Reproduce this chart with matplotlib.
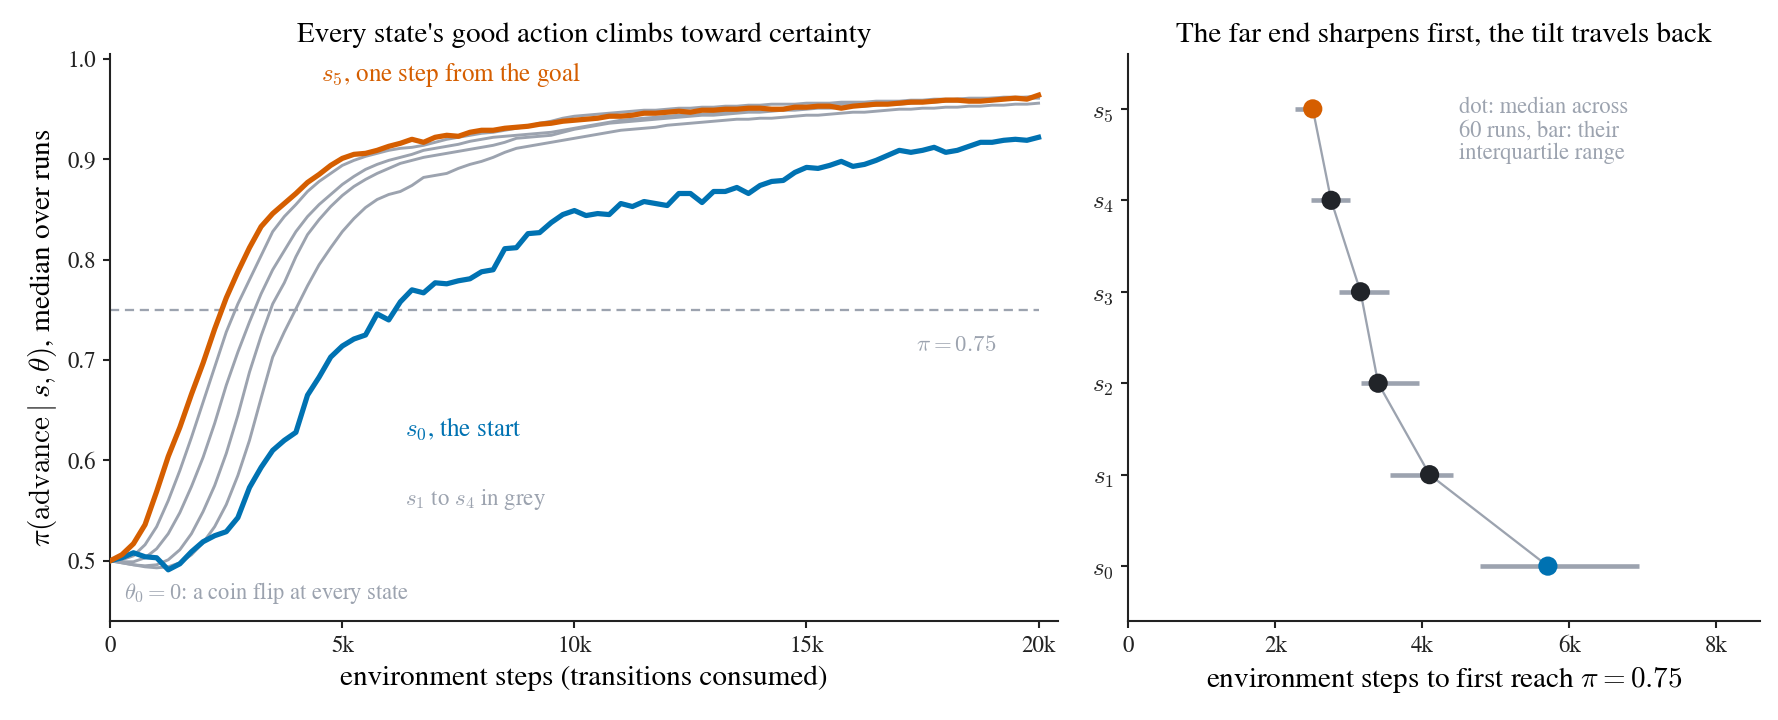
import numpy as np
import matplotlib
matplotlib.use("Agg")
import matplotlib.pyplot as plt
from matplotlib.ticker import FuncFormatter

plt.rcParams["font.family"] = ["STIXGeneral", "DejaVu Serif"]
plt.rcParams["mathtext.fontset"] = "cm"

COLORS = {
    "s0":   "#0072B2",
    "s5":   "#D55E00",
    "grey": "#9CA3AF",
    "dot":  "#212429",
    "ink":  "#222222",
}

# ---- left panel: median pi(advance | s) over training, sampled every 250 steps
steps = np.arange(0, 20001, 250)

pi_s5 = [0.500, 0.506, 0.517, 0.536, 0.569, 0.604, 0.633, 0.666, 0.697, 0.731,
         0.762, 0.788, 0.812, 0.833, 0.846, 0.856, 0.866, 0.877, 0.885, 0.894,
         0.901, 0.905, 0.906, 0.909, 0.913, 0.916, 0.920, 0.917, 0.922, 0.924,
         0.923, 0.927, 0.929, 0.929, 0.931, 0.932, 0.933, 0.935, 0.936, 0.938,
         0.939, 0.940, 0.941, 0.943, 0.943, 0.944, 0.946, 0.946, 0.947, 0.948,
         0.947, 0.949, 0.949, 0.950, 0.950, 0.951, 0.951, 0.950, 0.950, 0.952,
         0.952, 0.953, 0.953, 0.951, 0.953, 0.954, 0.955, 0.955, 0.956, 0.957,
         0.957, 0.958, 0.959, 0.959, 0.958, 0.958, 0.959, 0.960, 0.961, 0.960,
         0.964]

pi_s4 = [0.500, 0.501, 0.505, 0.516, 0.534, 0.560, 0.590, 0.623, 0.658, 0.693,
         0.728, 0.756, 0.780, 0.804, 0.828, 0.843, 0.855, 0.868, 0.878, 0.886,
         0.894, 0.899, 0.903, 0.906, 0.909, 0.911, 0.912, 0.914, 0.917, 0.920,
         0.922, 0.924, 0.926, 0.927, 0.929, 0.931, 0.933, 0.936, 0.938, 0.941,
         0.943, 0.944, 0.945, 0.946, 0.947, 0.948, 0.949, 0.949, 0.950, 0.951,
         0.951, 0.952, 0.952, 0.953, 0.953, 0.954, 0.954, 0.955, 0.955, 0.955,
         0.956, 0.956, 0.956, 0.957, 0.957, 0.957, 0.958, 0.958, 0.958, 0.959,
         0.959, 0.960, 0.960, 0.960, 0.961, 0.961, 0.961, 0.962, 0.962, 0.962,
         0.963]

pi_s3 = [0.500, 0.499, 0.499, 0.503, 0.512, 0.527, 0.548, 0.574, 0.603, 0.637,
         0.675, 0.708, 0.738, 0.766, 0.790, 0.809, 0.828, 0.843, 0.855, 0.865,
         0.875, 0.883, 0.890, 0.895, 0.899, 0.902, 0.905, 0.909, 0.911, 0.913,
         0.915, 0.918, 0.920, 0.922, 0.923, 0.924, 0.925, 0.926, 0.927, 0.929,
         0.931, 0.933, 0.935, 0.937, 0.939, 0.940, 0.941, 0.942, 0.943, 0.944,
         0.944, 0.945, 0.946, 0.947, 0.948, 0.949, 0.950, 0.950, 0.951, 0.952,
         0.953, 0.953, 0.954, 0.955, 0.955, 0.956, 0.956, 0.957, 0.957, 0.958,
         0.958, 0.959, 0.959, 0.960, 0.960, 0.960, 0.961, 0.961, 0.961, 0.962,
         0.962]

pi_s2 = [0.500, 0.498, 0.496, 0.495, 0.496, 0.501, 0.511, 0.527, 0.549, 0.575,
         0.607, 0.645, 0.688, 0.724, 0.756, 0.777, 0.803, 0.825, 0.840, 0.853,
         0.864, 0.873, 0.880, 0.886, 0.891, 0.896, 0.899, 0.902, 0.904, 0.906,
         0.908, 0.910, 0.912, 0.914, 0.917, 0.921, 0.922, 0.923, 0.924, 0.927,
         0.930, 0.932, 0.934, 0.936, 0.937, 0.938, 0.939, 0.940, 0.941, 0.942,
         0.943, 0.944, 0.944, 0.945, 0.946, 0.947, 0.947, 0.948, 0.949, 0.949,
         0.950, 0.951, 0.951, 0.952, 0.953, 0.953, 0.954, 0.955, 0.955, 0.956,
         0.957, 0.957, 0.958, 0.958, 0.959, 0.959, 0.960, 0.960, 0.960, 0.961,
         0.961]

pi_s1 = [0.500, 0.498, 0.496, 0.494, 0.493, 0.494, 0.498, 0.506, 0.518, 0.534,
         0.556, 0.585, 0.620, 0.662, 0.703, 0.728, 0.751, 0.774, 0.795, 0.812,
         0.828, 0.841, 0.852, 0.860, 0.865, 0.868, 0.874, 0.882, 0.884, 0.886,
         0.891, 0.895, 0.898, 0.902, 0.907, 0.911, 0.913, 0.915, 0.917, 0.919,
         0.921, 0.923, 0.925, 0.927, 0.929, 0.930, 0.931, 0.932, 0.934, 0.935,
         0.936, 0.937, 0.938, 0.939, 0.940, 0.940, 0.941, 0.941, 0.942, 0.943,
         0.944, 0.944, 0.945, 0.946, 0.947, 0.947, 0.948, 0.949, 0.950, 0.950,
         0.951, 0.951, 0.952, 0.952, 0.953, 0.953, 0.954, 0.954, 0.955, 0.955,
         0.956]

pi_s0 = [0.500, 0.503, 0.508, 0.504, 0.503, 0.491, 0.497, 0.509, 0.519, 0.525,
         0.529, 0.543, 0.573, 0.593, 0.610, 0.620, 0.628, 0.665, 0.683, 0.703,
         0.714, 0.721, 0.725, 0.746, 0.740, 0.758, 0.770, 0.767, 0.777, 0.776,
         0.779, 0.781, 0.788, 0.790, 0.811, 0.812, 0.826, 0.827, 0.837, 0.845,
         0.849, 0.844, 0.846, 0.845, 0.856, 0.853, 0.858, 0.856, 0.854, 0.866,
         0.866, 0.857, 0.868, 0.868, 0.872, 0.866, 0.874, 0.878, 0.879, 0.887,
         0.892, 0.891, 0.894, 0.898, 0.893, 0.895, 0.899, 0.904, 0.909, 0.907,
         0.909, 0.912, 0.907, 0.909, 0.913, 0.917, 0.917, 0.919, 0.920, 0.919,
         0.922]

THRESHOLD = 0.75

# ---- right panel: steps until each state first reaches pi = 0.75 (60 runs)
state_idx = [0, 1, 2, 3, 4, 5]
state_labels = [r"$s_0$", r"$s_1$", r"$s_2$", r"$s_3$", r"$s_4$", r"$s_5$"]
reach_median = [5710, 4100, 3400, 3160, 2760, 2510]
reach_q25 = [4780, 3560, 3170, 2870, 2480, 2270]
reach_q75 = [6950, 4420, 3950, 3550, 3020, 2610]


def kfmt(v, _pos):
    return "0" if v == 0 else f"{v / 1000:.0f}k"


fig, axes = plt.subplots(1, 2, figsize=(1778 / 150, 720 / 150),
                         gridspec_kw={"width_ratios": [3, 2]})
fig.subplots_adjust(left=0.062, right=0.990, bottom=0.1375, top=0.925, wspace=0.089)

for ax in axes:
    for side in ("top", "right"):
        ax.spines[side].set_visible(False)
    for side in ("left", "bottom"):
        ax.spines[side].set_color(COLORS["ink"])
        ax.spines[side].set_linewidth(1.0)
    ax.tick_params(colors=COLORS["ink"], labelsize=11, length=3.5, width=1.0)
    ax.xaxis.set_major_formatter(FuncFormatter(kfmt))

# left
ax = axes[0]
for series in (pi_s1, pi_s2, pi_s3, pi_s4):
    ax.plot(steps, series, color=COLORS["grey"], lw=1.4, zorder=2)
ax.plot(steps, pi_s0, color=COLORS["s0"], lw=2.5, zorder=3)
ax.plot(steps, pi_s5, color=COLORS["s5"], lw=2.5, zorder=4)
ax.hlines(THRESHOLD, 0, steps[-1], colors=COLORS["grey"], linestyles=(0, (4, 2.5)),
          lw=1.1, zorder=1)

ax.set_xlim(0, 20420)
ax.set_ylim(0.44, 1.005)
ax.set_xticks([0, 5000, 10000, 15000, 20000])
ax.set_yticks([0.5, 0.6, 0.7, 0.8, 0.9, 1.0])
ax.set_xlabel("environment steps (transitions consumed)", fontsize=14)
ax.set_ylabel(r"$\pi(\mathrm{advance}\mid s,\theta)$, median over runs", fontsize=14)
ax.set_title("Every state's good action climbs toward certainty", fontsize=14)

ax.text(4550, 0.985, r"$s_5$, one step from the goal", color=COLORS["s5"],
        fontsize=12, va="center")
ax.text(6350, 0.632, r"$s_0$, the start", color=COLORS["s0"], fontsize=12, va="center")
ax.text(6350, 0.561, r"$s_1$ to $s_4$ in grey", color=COLORS["grey"], fontsize=11,
        va="center")
ax.text(19100, 0.715, r"$\pi = 0.75$", color=COLORS["grey"], fontsize=11,
        ha="right", va="center")
ax.text(300, 0.468, r"$\theta_0 = 0$: a coin flip at every state", color=COLORS["grey"],
        fontsize=10.8, va="center")

# right
ax = axes[1]
ax.hlines(state_idx, reach_q25, reach_q75, colors=COLORS["grey"], lw=2.2, zorder=1)
ax.plot(reach_median, state_idx, color=COLORS["grey"], lw=1.1, zorder=2)
dot_colors = [COLORS["s0"]] + [COLORS["dot"]] * 4 + [COLORS["s5"]]
ax.scatter(reach_median, state_idx, s=85, c=dot_colors, zorder=3, linewidths=0)

ax.set_xlim(0, 8600)
ax.set_ylim(-0.6, 5.6)
ax.set_xticks([0, 2000, 4000, 6000, 8000])
ax.set_yticks(state_idx)
ax.set_yticklabels(state_labels, fontsize=12)
ax.set_xlabel(r"environment steps to first reach $\pi = 0.75$", fontsize=14)
ax.set_title("The far end sharpens first, the tilt travels back", fontsize=14)
ax.text(4500, 5.13, "dot: median across\n60 runs, bar: their\ninterquartile range",
        color=COLORS["grey"], fontsize=10.8, va="top", ha="left", linespacing=1.1)

fig.savefig("out.png", dpi=150)
plt.close(fig)
